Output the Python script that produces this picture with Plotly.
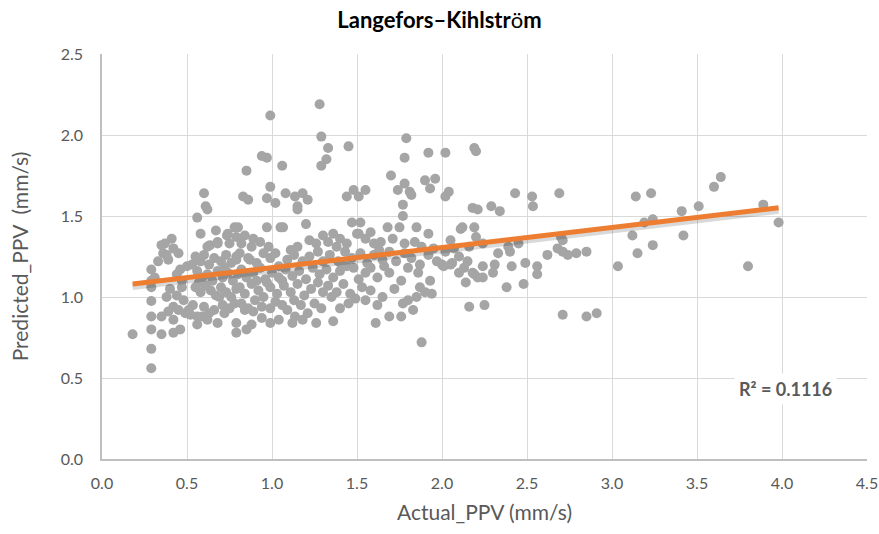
import plotly.graph_objects as go

# ---- data ----
actual_ppv = [
    # x 0.15-0.5
    0.18, 0.29, 0.29, 0.29, 0.35, 0.29, 0.35, 0.39, 0.42, 0.45, 0.29, 0.38, 0.42, 0.46, 0.29, 0.29, 0.29,
    0.36, 0.35, 0.41, 0.42, 0.45, 0.39, 0.37, 0.46, 0.50, 0.44, 0.47, 0.47, 0.33, 0.40, 0.44, 0.48, 0.42,
    0.49, 0.31, 0.38,
    # x 0.5-0.8
    0.535, 0.52, 0.56, 0.59, 0.56, 0.62, 0.68, 0.56, 0.58, 0.62, 0.60, 0.61, 0.67, 0.635, 0.68, 0.735,
    0.75, 0.78, 0.79, 0.74, 0.62, 0.68,
    0.55, 0.58, 0.60, 0.63, 0.66, 0.70, 0.73, 0.76, 0.79, 0.56, 0.59, 0.62, 0.65, 0.68, 0.71, 0.74, 0.77,
    0.80, 0.55, 0.58, 0.61, 0.64, 0.67, 0.70, 0.73, 0.76, 0.79, 0.53, 0.57, 0.72,
    0.71, 0.69, 0.78, 0.79, 0.79, 0.72, 0.75, 0.66, 0.63, 0.60, 0.51,
    # x 0.8-1.3 upper
    0.99, 0.94, 0.97, 0.85, 1.06, 0.99, 0.97, 1.02, 0.83, 0.86, 1.08, 1.135, 1.18, 1.21, 1.15, 1.28,
    1.29, 1.33, 1.32, 1.29, 0.80, 0.84, 0.89, 0.97, 1.05, 1.065, 1.20, 1.15,
    # x 0.8-1.3 dense
    0.82, 0.88, 0.93, 0.98, 1.02, 1.11, 1.15, 1.22, 1.26, 1.30,
    0.81, 0.86, 0.91, 0.95, 0.99, 1.04, 1.09, 1.13, 1.18, 1.22, 1.27, 1.30, 0.87, 0.79,
    0.82, 0.85, 0.89, 0.93, 0.96, 1.00, 1.04, 1.08, 1.12, 1.16, 1.20, 1.24, 1.28, 0.91, 1.06,
    0.81, 0.84, 0.88, 0.92, 0.95, 0.99, 1.03, 1.07, 1.11, 1.15, 1.19, 1.23, 1.27, 1.30, 0.97,
    0.82, 0.86, 0.90, 0.94, 0.99, 1.02, 1.06, 1.09, 1.13, 1.17, 1.21, 1.25, 1.29, 0.84, 0.89,
    0.88, 0.99, 1.135, 1.26, 1.12, 0.94, 1.04, 1.18, 0.85,
    # x 1.3-2.0
    1.45, 1.44, 1.48, 1.51, 1.55, 1.79, 1.78, 1.70, 1.74, 1.78, 1.81, 1.82, 1.77, 1.77, 1.92, 2.02,
    1.90, 1.96, 1.93, 2.04, 2.02,
    1.36, 1.40, 1.33, 1.44, 1.51, 1.47, 1.52, 1.50, 1.68, 1.75, 1.85, 1.92, 1.84, 1.55, 1.60, 1.64,
    1.71, 1.78, 1.88, 1.95, 1.58, 1.38,
    1.34, 1.39, 1.43, 1.47, 1.52, 1.56, 1.60, 1.65, 1.69, 1.73, 1.78, 1.82, 1.87, 1.92, 1.97, 1.41, 1.63,
    1.32, 1.36, 1.40, 1.44, 1.48, 1.55, 1.62, 1.69, 1.76, 1.86, 1.93, 1.51, 1.58, 1.66, 1.80,
    1.33, 1.38, 1.42, 1.46, 1.53, 1.87, 1.65, 1.85, 1.94, 1.58, 1.72, 1.35, 1.49,
    1.55, 1.77, 1.80, 1.83, 1.76, 1.69, 1.61, 1.36, 1.40, 1.45, 1.88, 1.90, 1.62,
    # x 2.0-2.5
    2.19, 2.20, 2.18, 2.21, 2.29, 2.34, 2.43, 2.11, 2.19, 2.12, 2.20, 2.24, 2.16, 2.33, 2.40, 2.39,
    2.24, 2.31, 2.30, 2.19, 2.24, 2.41, 2.49, 2.38, 2.48, 2.16, 2.25, 2.05, 2.10, 2.07, 2.13, 2.02,
    2.05, 2.14, 2.10, 2.00, 2.45, 2.01, 2.06, 2.15, 2.18, 2.21,
    # x 2.5-4.0
    2.53, 2.535, 2.69, 2.56, 2.56, 2.62, 2.71, 2.68, 2.71, 2.74, 2.79, 2.85, 2.71, 2.85, 2.91, 3.035,
    3.12, 3.15, 3.24, 3.14, 3.23, 3.19, 3.24, 3.41, 3.51, 3.42, 3.60, 3.64, 3.89, 3.98, 3.80, 2.70,
]
predicted_ppv = [
    # x 0.15-0.5
    0.77, 0.56, 0.68, 0.80, 0.77, 0.88, 0.88, 0.91, 0.94, 0.92, 0.975, 1.00, 0.78, 0.80, 1.06, 1.10, 1.17,
    1.27, 1.32, 1.36, 1.30, 1.27, 1.23, 1.33, 1.17, 1.19, 1.14, 1.06, 1.10, 1.22, 1.05, 1.01, 0.98, 0.86,
    0.90, 1.12, 1.26,
    # x 0.5-0.8
    0.95, 0.89, 0.88, 0.88, 0.83, 0.86, 0.84, 1.49, 1.39, 1.54, 1.64, 1.56, 1.41, 1.32, 1.34, 1.38,
    1.33, 1.43, 1.37, 1.39, 1.31, 1.33,
    1.25, 1.22, 1.26, 1.20, 1.24, 1.22, 1.26, 1.21, 1.25, 1.16, 1.12, 1.14, 1.10, 1.16, 1.12, 1.15, 1.10,
    1.14, 1.06, 1.03, 1.07, 1.04, 1.01, 1.06, 1.03, 1.00, 1.05, 1.20, 1.09, 1.18,
    0.95, 1.00, 0.96, 0.84, 0.78, 0.90, 0.93, 0.92, 0.90, 0.94, 0.92,
    # x 0.8-1.3 upper
    2.12, 1.87, 1.86, 1.78, 1.81, 1.68, 1.61, 1.58, 1.62, 1.60, 1.64, 1.62, 1.64, 1.60, 1.56, 2.19,
    1.99, 1.92, 1.85, 1.81, 1.43, 1.38, 1.36, 1.43, 1.43, 1.43, 1.45, 1.54,
    # x 0.8-1.3 dense
    1.33, 1.31, 1.34, 1.31, 1.27, 1.29, 1.31, 1.35, 1.33, 1.38,
    1.27, 1.24, 1.21, 1.27, 1.24, 1.19, 1.23, 1.26, 1.22, 1.25, 1.28, 1.22, 1.23, 1.23,
    1.17, 1.12, 1.15, 1.18, 1.11, 1.15, 1.12, 1.17, 1.13, 1.16, 1.11, 1.18, 1.14, 1.10, 1.10,
    1.06, 1.02, 1.08, 1.04, 1.00, 1.06, 1.02, 1.07, 1.03, 1.08, 1.01, 1.05, 1.09, 1.03, 1.09,
    0.96, 0.93, 0.98, 0.94, 0.93, 0.97, 0.95, 0.92, 0.98, 0.95, 0.90, 0.96, 0.93, 0.92, 0.91,
    0.83, 0.84, 0.88, 0.84, 0.84, 0.87, 0.86, 0.86, 0.80,
    # x 1.3-2.0
    1.93, 1.62, 1.66, 1.62, 1.66, 1.98, 1.86, 1.75, 1.66, 1.70, 1.65, 1.63, 1.57, 1.50, 1.89, 1.89,
    1.72, 1.73, 1.67, 1.65, 1.62,
    1.39, 1.36, 1.34, 1.33, 1.39, 1.46, 1.46, 1.39, 1.43, 1.43, 1.43, 1.39, 1.34, 1.36, 1.33, 1.34,
    1.36, 1.33, 1.31, 1.30, 1.40, 1.31,
    1.26, 1.22, 1.28, 1.24, 1.27, 1.21, 1.26, 1.23, 1.28, 1.22, 1.27, 1.24, 1.20, 1.26, 1.22, 1.20, 1.29,
    1.17, 1.12, 1.16, 1.19, 1.18, 1.15, 1.12, 1.15, 1.10, 1.15, 1.10, 1.11, 1.18, 1.19, 1.18,
    1.07, 1.03, 1.08, 1.02, 1.06, 1.06, 1.00, 1.00, 1.02, 1.04, 1.05, 1.00, 0.99,
    0.98, 0.96, 0.98, 0.92, 0.88, 0.88, 0.84, 0.85, 0.93, 0.96, 0.72, 1.03, 0.95,
    # x 2.0-2.5
    1.92, 1.90, 1.55, 1.54, 1.56, 1.53, 1.64, 1.42, 1.43, 1.43, 1.37, 1.33, 1.31, 1.27, 1.28, 1.31,
    1.19, 1.20, 1.15, 1.14, 1.12, 1.19, 1.21, 1.06, 1.08, 0.94, 0.95, 1.20, 1.25, 1.30, 1.18, 1.28,
    1.35, 1.09, 1.15, 1.20, 1.33, 1.19, 1.21, 1.22, 1.15, 1.12,
    # x 2.5-4.0
    1.62, 1.56, 1.64, 1.19, 1.14, 1.26, 1.35, 1.30, 1.28, 1.26, 1.27, 1.28, 0.89, 0.88, 0.90, 1.19,
    1.38, 1.27, 1.32, 1.62, 1.64, 1.46, 1.48, 1.53, 1.56, 1.38, 1.68, 1.74, 1.57, 1.46, 1.19, 1.37,
]

# linear trendline
trend_slope = 0.1237
trend_intercept = 1.058
r2_label = "R² = 0.1116"

x_ticks = [0.0, 0.5, 1.0, 1.5, 2.0, 2.5, 3.0, 3.5, 4.0, 4.5]
y_ticks = [0.0, 0.5, 1.0, 1.5, 2.0, 2.5]

tx = [min(actual_ppv), max(actual_ppv)]
ty = [trend_intercept + trend_slope * v for v in tx]

FONT = "Lato, 'Open Sans', sans-serif"
GREY_TXT = "#595959"

fig = go.Figure()
fig.add_trace(go.Scatter(
    x=actual_ppv, y=predicted_ppv, mode="markers",
    marker=dict(color="#A5A5A5", size=10, line=dict(width=0)),
    showlegend=False, hoverinfo="x+y",
))
# soft shadow below the trendline
fig.add_trace(go.Scatter(
    x=tx, y=[v - 0.018 for v in ty], mode="lines",
    line=dict(color="rgba(0,0,0,0.15)", width=6),
    showlegend=False, hoverinfo="skip",
))
fig.add_trace(go.Scatter(
    x=tx, y=ty, mode="lines",
    line=dict(color="#ED7D31", width=5),
    showlegend=False, hoverinfo="skip",
))

fig.add_annotation(
    x=4.02, y=0.43, xref="x", yref="y", text="<b>" + r2_label + "</b>",
    showarrow=False, font=dict(family=FONT, size=18, color=GREY_TXT),
    bgcolor="white", borderpad=4,
)

fig.update_layout(
    width=879, height=534,
    margin=dict(l=102, r=12, t=54, b=75, autoexpand=False),
    paper_bgcolor="white", plot_bgcolor="white",
    title=dict(
        text="<b>Langefors–Kihlstr</b>ö<b>m</b>",
        x=0.5, xanchor="center", y=1 - 20 / 534, yanchor="middle", yref="container",
        font=dict(family=FONT, size=22, color="black"),
    ),
    font=dict(family=FONT, color=GREY_TXT),
)
fig.update_xaxes(
    range=[0, 4.5], tickvals=x_ticks, ticktext=[f"{v:.1f}" for v in x_ticks],
    automargin=False,
    showgrid=True, gridcolor="#D9D9D9", gridwidth=1,
    showline=True, linecolor="#BFBFBF", linewidth=1.5, zeroline=False,
    ticks="", ticklabelstandoff=9, tickfont=dict(family=FONT, size=16, color=GREY_TXT),
    title=dict(text="Actual_PPV (mm/s)", font=dict(family=FONT, size=21, color=GREY_TXT), standoff=14),
)
fig.update_yaxes(
    range=[0, 2.5], tickvals=y_ticks, ticktext=[f"{v:.1f}" for v in y_ticks],
    automargin=False,
    showgrid=True, gridcolor="#D9D9D9", gridwidth=1,
    showline=True, linecolor="#BFBFBF", linewidth=1.5, zeroline=False,
    ticks="", ticklabelstandoff=14, tickfont=dict(family=FONT, size=16, color=GREY_TXT),
    title=dict(text="Predicted_PPV  (mm/s)", font=dict(family=FONT, size=21, color=GREY_TXT), standoff=26),
)

fig.write_html("out.html")
